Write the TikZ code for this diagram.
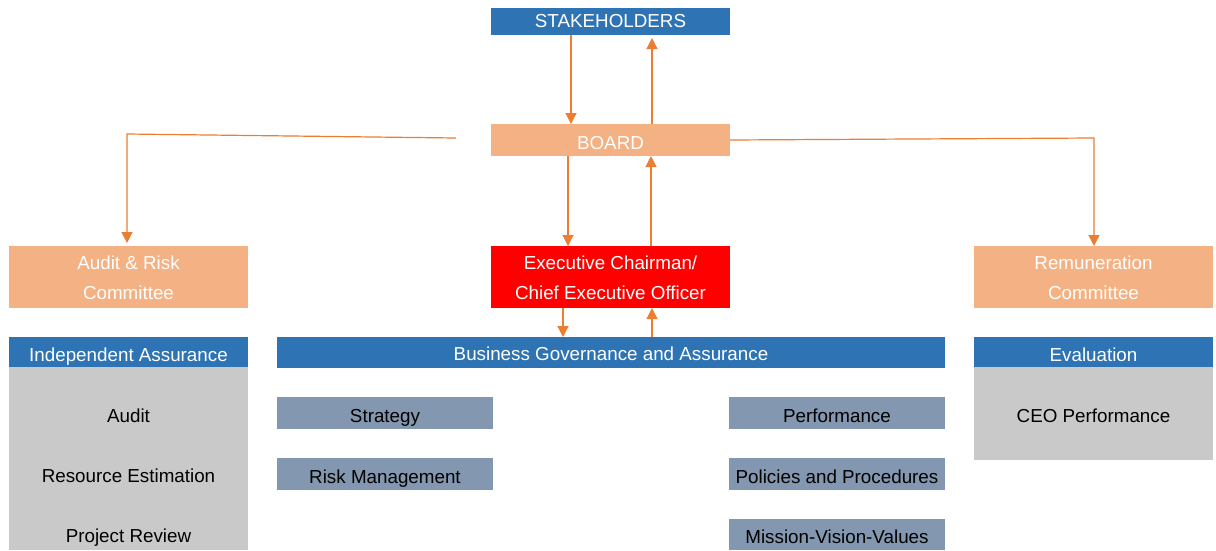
\documentclass[tikz,border=0pt]{standalone}
\usepackage{fontspec}
\setmainfont{Liberation Sans}
\usetikzlibrary{arrows.meta,calc}
\definecolor{hblue}{HTML}{2E74B5}
\definecolor{peach}{HTML}{F4B183}
\definecolor{lgray}{HTML}{C9C9C9}
\definecolor{slate}{HTML}{8497B0}
\definecolor{lorange}{HTML}{ED7D31}
\begin{document}
\begin{tikzpicture}[x=1pt,y=-1pt,
  box/.style={anchor=north west,inner sep=0pt,outer sep=0pt,align=center,
    font=\fontsize{18.8}{30}\selectfont},
  one/.style={text height=20pt,text depth=2pt},
  bluebox/.style={box,fill=hblue,text=white},
  peachbox/.style={box,fill=peach,text=white},
  redbox/.style={box,fill=red,text=white},
  graybox/.style={box,fill=lgray},
  slatebox/.style={box,one,fill=slate,text=black},
  item/.style={inner sep=0pt,anchor=base,font=\fontsize{18.8}{30}\selectfont,text=black},
  arr/.style={draw=lorange,line width=1.2pt,-{Triangle[length=11pt,width=11pt]}},
  ln/.style={draw=lorange,line width=1.2pt}]
\useasboundingbox (0,0) rectangle (1216,550);
% top
\node[bluebox,text height=14pt,text depth=2pt,minimum width=239pt,minimum height=27pt] (sh) at (491,8) {STAKEHOLDERS};
\node[peachbox,one,minimum width=239pt,minimum height=32pt] (board) at (491,124) {BOARD};
\node[redbox,minimum width=239pt,minimum height=62pt] (ceo) at (491,246) {\rule{0pt}{16pt}Executive Chairman/\\Chief Executive Officer};
\node[peachbox,minimum width=239pt,minimum height=62pt] (arc) at (9,246) {\rule{0pt}{16pt}Audit \& Risk\\Committee};
\node[peachbox,minimum width=239pt,minimum height=62pt] (rem) at (974,246) {\rule{0pt}{16pt}Remuneration\\Committee};
% left column
\node[graybox,minimum width=239pt,minimum height=183pt] (iabody) at (9,367) {};
\node[bluebox,one,minimum width=239pt,minimum height=30pt] (ia) at (9,337) {Independent Assurance};
\node[item] (audit) at (128.5,422) {Audit};
\node[item] (res) at (128.5,482.5) {Resource Estimation};
\node[item] (proj) at (128.5,542.5) {Project Review};
% middle
\node[bluebox,text height=17pt,text depth=2pt,minimum width=668pt,minimum height=31pt] (bga) at (277,337) {Business Governance and Assurance};
\node[slatebox,minimum width=216pt,minimum height=32pt] (strat) at (277,397) {Strategy};
\node[slatebox,minimum width=216pt,minimum height=32pt] (risk) at (277,458) {Risk Management};
\node[slatebox,minimum width=216pt,minimum height=32pt] (perf) at (729,397) {Performance};
\node[slatebox,minimum width=216pt,minimum height=32pt] (pol) at (729,458) {Policies and Procedures};
\node[slatebox,minimum width=216pt,minimum height=31pt] (mvv) at (729,519) {Mission-Vision-Values};
% right column
\node[graybox,minimum width=239pt,minimum height=93pt] (evbody) at (974,367) {};
\node[bluebox,one,minimum width=239pt,minimum height=30pt] (ev) at (974,337) {Evaluation};
\node[item] (ceoperf) at (1093.5,422) {CEO Performance};
% connectors
\draw[arr] (sh.south -| 571,0) -- (board.north -| 571,0);
\draw[arr] (board.north -| 652,0) -- ($(sh.south -| 652,0)+(0,3)$);
\draw[arr] (board.south -| 568,0) -- (ceo.north -| 568,0);
\draw[arr] (ceo.north -| 651,0) -- (board.south -| 651,0);
\draw[arr] (ceo.south -| 563,0) -- (bga.north -| 563,0);
\draw[arr] (bga.north -| 652,0) -- (ceo.south -| 652,0);
\coordinate (lstart) at (456,138);
\coordinate (lcorner) at (127,134);
\coordinate (rcorner) at (1094,138);
\draw[arr] (lstart) -- (lcorner) -- ($(arc.north -| lcorner)+(0,-3)$);
\draw[arr] (board.east) -- (rcorner) -- (rem.north -| rcorner);
\end{tikzpicture}
\end{document}
